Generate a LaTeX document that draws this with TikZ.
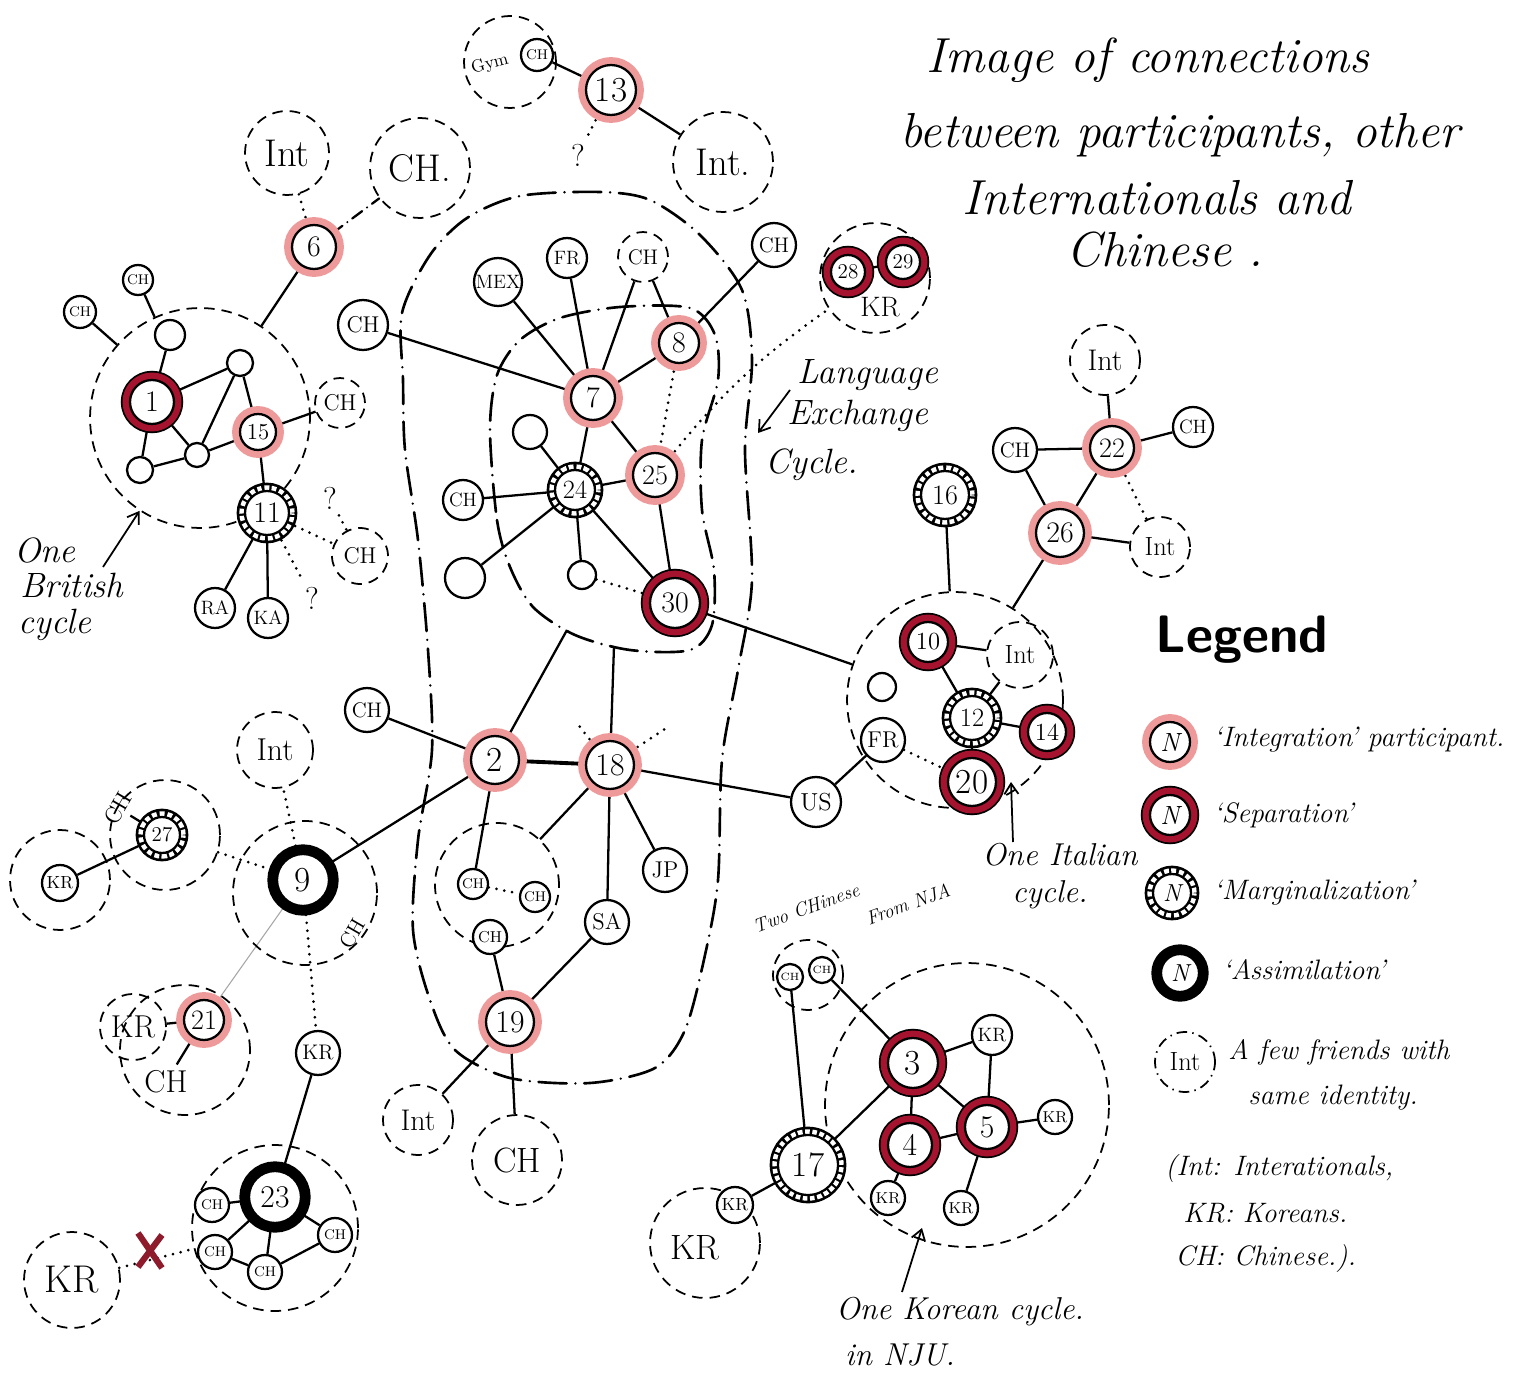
\documentclass[tikz,border=0pt]{standalone}
\usepackage{fontspec}
\usetikzlibrary{arrows.meta,calc}
\definecolor{halo}{HTML}{EE9A9A}
\definecolor{sepred}{HTML}{A6132F}
\definecolor{xred}{HTML}{8E1B2C}
\pgfdeclarelayer{paper}
\pgfdeclarelayer{bg}
\pgfsetlayers{paper,bg,main}
\tikzset{
  fs/.style={font=\fontsize{#1}{#1}\selectfont},
  base/.style={circle, inner sep=0pt, minimum size=#1*0.04cm, fill=white, draw=black, line width=1.3pt, fs=17},
  plain/.style={base=#1},
  integ/.style={base=#1, preaction={draw=halo, line width=9pt}},
  sepn/.style={base=#1, preaction={draw=black, line width=10.5pt}, preaction={draw=sepred, line width=8.5pt}},
  marg/.style={base=#1, preaction={draw=black, line width=9.5pt}, preaction={draw=white, line width=6.5pt, dash pattern=on 2.4pt off 1.3pt}},
  assim/.style={base=#1, preaction={draw=black, line width=11pt}},
  grp/.style={circle, inner sep=0pt, minimum size=#1*0.04cm, draw=black, line width=1pt, dash pattern=on 6pt off 4pt, fs=20},
  grpdd/.style={grp=#1, dash pattern=on 6pt off 3pt on 0.8pt off 3pt},
  link/.style={line width=1.3pt},
  dots/.style={line width=1.7pt, dash pattern=on 0pt off 4.5pt, line cap=round},
  dashdot/.style={line width=1.3pt, dash pattern=on 7pt off 3.5pt on 0pt off 3.5pt, line cap=round},
  cyc/.style={line width=1.5pt, dash pattern=on 16pt off 5pt on 0pt off 5pt, line cap=round},
  note/.style={font=\itshape\fontsize{#1}{#1}\selectfont, inner sep=0pt},
  arr/.style={line width=1pt, -{Straight Barb[length=6pt,width=8pt]}},
}
\begin{document}
\begin{tikzpicture}[x=0.02cm, y=-0.02cm]
\begin{pgfonlayer}{paper}
  \fill[white] (0,0) rectangle (1519,1375);
\end{pgfonlayer}
\useasboundingbox (0,0) rectangle (1519,1375);

% ---------- title ----------
\node[note=28] (t1) at (1148,60) {Image of connections};
\node[note=28] (t2) at (1180,135) {between participants, other};
\node[note=28] (t3) at (1157,198) {Internationals and};
\node[note=28] (t4) at (1165,250) {Chinese .};

% ---------- cycles drawn as free outlines ----------
\draw[cyc] plot[smooth cycle] coordinates {(403,380) (402,313) (430,255) (467,218) (520,196) (600,192) (650,200) (700,235) (742,290) (752,360) (745,450) (752,580) (738,670) (722,760) (718,880) (705,955) (685,1030) (655,1068) (590,1083) (510,1078) (455,1050) (430,1000) (413,930) (418,840) (432,750) (428,650) (418,540) (405,450)};
\draw[cyc] plot[smooth cycle] coordinates {(490,430) (497,520) (510,567) (533,607) (575,635) (630,650) (690,650) (712,625) (714,570) (702,510) (702,440) (718,380) (715,335) (690,308) (620,307) (560,318) (520,340) (497,375)};
\coordinate (inA) at (567,630);
\coordinate (inB) at (614,646);

% ---------- groups ----------
\node[grp=110] (brit) at (200,418) {};
\node[grp=108] (ital) at (955,700) {};
\node[grp=142] (korg) at (967,1105) {};
\node[grp=55] (krg) at (875,278) {};
\node[grp=46] (gymg) at (510,62) {};
\node[grp=62] (chg) at (497,885) {};
\node[grp=72] (g9) at (305,893) {};
\node[grp=55] (g27) at (165,835) {};
\node[grp=50] (gkr) at (60,880) {};
\node[grp=65] (g21) at (185,1050) {};
\node[grp=83] (g23) at (275,1228) {};
\node[grp=35] (twog) at (808,975) {};
\node[grp=55] (gkr7) at (705,1243) {};

% ---------- British cycle ----------
\node[sepn=22] (n1) at (152,402) {1};
\node[integ=18, fs=13] (n15) at (258,432) {15};
\node[marg=22] (n11) at (267,513) {11};
\node[plain=15] (e1) at (170,335) {};
\node[plain=13] (e2) at (240,363) {};
\node[plain=12] (e3) at (197,455) {};
\node[plain=13] (e4) at (140,470) {};
\node[plain=16, fs=8] (ch1) at (80,312) {CH};
\node[plain=15, fs=8] (ch2) at (138,280) {CH};
\node[grp=25, fs=13] (ch3) at (340,403) {CH};
\node[plain=20, fs=11] (ra) at (215,608) {RA};
\node[plain=20, fs=11] (ka) at (268,618) {KA};
\node[grp=28, fs=13] (ch4) at (360,556) {CH};
\node[fs=18] (q2) at (330,498) {?};
\node[fs=18] (q3) at (312,598) {?};
\node[integ=22] (n6) at (314,247) {6};
\node[grp=42, fs=22] (int1) at (287,153) {Int};
\node[grp=50, fs=22] (ch5) at (420,168) {CH.};

% ---------- top centre ----------
\node[fs=10, rotate=15] (gym) at (490,64) {Gym};
\node[plain=16, fs=8] (ch6) at (537,55) {CH};
\node[integ=25, fs=20] (n13) at (611,90) {13};
\node[fs=18] (q1) at (578,155) {?};
\node[grp=50, fs=22] (int2) at (723,162) {Int.};
\node[plain=24, fs=11] (mex) at (498,282) {MEX};
\node[plain=20, fs=11] (fr1) at (567,258) {FR};
\node[grp=25, fs=12] (ch7) at (643,257) {CH};
\node[plain=22, fs=12] (ch8) at (774,245) {CH};
\node[plain=25, fs=13] (ch9) at (363,325) {CH};
\node[integ=22] (n7) at (593,398) {7};
\node[integ=20] (n8) at (679,343) {8};
\node[integ=22, fs=16] (n25) at (655,475) {25};
\node[marg=20, fs=15] (n24) at (575,490) {24};
\node[sepn=25, fs=17] (n30) at (675,603) {30};
\node[plain=17] (e5) at (530,432) {};
\node[plain=20, fs=11] (ch10) at (463,500) {CH};
\node[plain=20] (e6) at (465,578) {};
\node[plain=14] (e7) at (582,575) {};
\node[sepn=17, fs=12] (n28) at (848,272) {28};
\node[sepn=17, fs=12] (n29) at (903,262) {29};
\node[fs=16] (krlbl) at (880,307) {KR};

% ---------- centre ----------
\node[plain=22, fs=12] (ch11) at (367,710) {CH};
\node[integ=24, fs=20] (n2) at (495,760) {2};
\node[integ=24, fs=18] (n18) at (610,765) {18};
\node[plain=15, fs=8] (ch12) at (473,884) {CH};
\node[plain=15, fs=8] (ch13) at (535,897) {CH};
\node[plain=17, fs=9] (ch14) at (490,937) {CH};
\node[plain=22, fs=13] (jp) at (665,870) {JP};
\node[plain=22, fs=13] (sa) at (607,922) {SA};
\node[integ=24, fs=18] (n19) at (510,1022) {19};
\node[grp=35, fs=17] (int3) at (418,1120) {Int};
\node[grp=45, fs=20] (ch15) at (517,1160) {CH};
\node[plain=25, fs=14] (us) at (816,802) {US};
\node[plain=22, fs=13] (fr2) at (883,740) {FR};
\coordinate (s18a) at (576,722);
\coordinate (s18b) at (668,727);

% ---------- left ----------
\node[grp=38, fs=18] (int4) at (275,750) {Int};
\node[assim=26, fs=20] (n9) at (303,880) {9};
\node[fs=12, rotate=60] (ch9l) at (352,934) {CH};
\node[marg=18, fs=12] (n27) at (162,835) {27};
\node[fs=13, rotate=60] (ch27) at (118,808) {CH};
\node[plain=18, fs=10] (kr1) at (60,883) {KR};
\node[grp=33, fs=18] (kr21) at (133,1027) {KR};
\node[integ=20, fs=16] (n21) at (204,1020) {21};
\node[fs=18] (ch21) at (166,1082) {CH};
\node[plain=22, fs=12] (kr2) at (318,1053) {KR};
\node[assim=26, fs=18] (n23) at (275,1197) {23};
\node[plain=17, fs=8] (c23a) at (212,1205) {CH};
\node[plain=17, fs=8] (c23b) at (215,1252) {CH};
\node[plain=17, fs=8] (c23c) at (265,1272) {CH};
\node[plain=17, fs=8] (c23d) at (335,1235) {CH};
\node[grp=48, fs=22] (krx) at (72,1280) {KR};
\coordinate (xm) at (150,1250);

% ---------- right ----------
\node[sepn=20, fs=14] (n10) at (928,642) {10};
\node[grp=33, fs=15] (int5) at (1020,655) {Int};
\node[plain=14] (e8) at (882,687) {};
\node[marg=22, fs=15] (n12) at (972,718) {12};
\node[sepn=19, fs=14] (n14) at (1047,732) {14};
\node[sepn=24, fs=20] (n20) at (972,782) {20};
\node[marg=24, fs=16] (n16) at (945,495) {16};
\node[integ=22, fs=16] (n22) at (1112,448) {22};
\node[integ=24, fs=17] (n26) at (1060,533) {26};
\node[plain=22, fs=12] (ch16) at (1015,450) {CH};
\node[plain=20, fs=11] (ch17) at (1193,427) {CH};
\node[grp=35, fs=17] (int6) at (1105,360) {Int};
\node[grp=30, fs=15] (int7) at (1160,547) {Int};

% ---------- Korean cycle ----------
\node[plain=13, fs=6] (ch18) at (790,977) {CH};
\node[plain=13, fs=6] (ch19) at (822,970) {CH};
\node[sepn=25, fs=20] (n3) at (913,1063) {3};
\node[sepn=22, fs=18] (n4) at (910,1145) {4};
\node[sepn=22, fs=18] (n5) at (987,1127) {5};
\node[marg=30, fs=20] (n17) at (808,1165) {17};
\node[plain=20, fs=11] (kr3) at (992,1035) {KR};
\node[plain=17, fs=9] (kr4) at (1055,1117) {KR};
\node[plain=17, fs=9] (kr5) at (961,1208) {KR};
\node[plain=17, fs=9] (kr6) at (888,1198) {KR};
\node[fs=20] (kr7l) at (695,1248) {KR};
\node[plain=18, fs=10] (kr7) at (735,1205) {KR};

% ---------- notes ----------
\node[note=20] (nb1) at (45,550) {One};
\node[note=20] (nb2) at (72,585) {British};
\node[note=20] (nb3) at (55,625) {cycle};
\node[note=20] (nl1) at (868,375) {Language};
\node[note=20] (nl2) at (858,416) {Exchange};
\node[note=20] (nl3) at (812,465) {Cycle.};
\node[note=18] (ni1) at (1060,855) {One Italian};
\node[note=18] (ni2) at (1050,895) {cycle.};
\node[note=11, rotate=20] (nt1) at (806,908) {Two CHinese};
\node[note=11, rotate=20] (nt2) at (908,904) {From NJA};
\node[note=18] (nk1) at (960,1312) {One Korean cycle.};
\node[note=18] (nk2) at (900,1355) {in NJU.};

% ---------- legend ----------
\node[font=\sffamily\bfseries\fontsize{30}{30}\selectfont] (leg) at (1242,640) {Legend};
\node[integ=20, font=\itshape\fontsize{15}{15}\selectfont] (L1) at (1170,742) {N};
\node[sepn=20, font=\itshape\fontsize{15}{15}\selectfont] (L2) at (1170,815) {N};
\node[marg=19, font=\itshape\fontsize{14}{14}\selectfont] (L3) at (1172,893) {N};
\node[assim=19, font=\itshape\fontsize{14}{14}\selectfont] (L4) at (1180,973) {N};
\node[grpdd=30, fs=15] (L5) at (1185,1062) {Int};
\node[note=16, anchor=west] (lt1) at (1213,740) {`Integration' participant.};
\node[note=16, anchor=west] (lt2) at (1213,815) {`Separation'};
\node[note=16, anchor=west] (lt3) at (1213,893) {`Marginalization'};
\node[note=16, anchor=west] (lt4) at (1222,970) {`Assimilation'};
\node[note=16, anchor=west] (lt5) at (1228,1052) {A few friends with};
\node[note=16, anchor=west] (lt6) at (1248,1098) {same identity.};
\node[note=16, anchor=west] (lt7) at (1165,1168) {(Int: Interationals,};
\node[note=16, anchor=west] (lt8) at (1183,1213) {KR: Koreans.};
\node[note=16, anchor=west] (lt9) at (1175,1258) {CH: Chinese.).};

% ---------- connectors ----------
\begin{pgfonlayer}{bg}
  % British cycle
  \draw[link] (ch1) -- (brit);
  \draw[link] (ch2) -- (brit);
  \draw[link] (n1) -- (e1);
  \draw[link] (n1) -- (e2);
  \draw[link] (n1) -- (e4);
  \draw[link] (n1) -- (e3);
  \draw[link] (e2) -- (e3);
  \draw[link] (e2) -- (n15);
  \draw[link] (e4) -- (e3);
  \draw[link] (e3) -- (n15);
  \draw[link] (n15) -- (ch3);
  \draw[link] (n15) -- (n11);
  \draw[link] (n6) -- (brit);
  \draw[link] (n11) -- (ra);
  \draw[link] (n11) -- (ka);
  \draw[dots] (n6) -- (int1);
  \draw[dashdot] (n6) -- (ch5);
  \draw[dots] (n11) -- (ch4);
  \draw[dots] (q2) -- (ch4);
  \draw[dots] (n11) -- (q3);
  % top centre
  \draw[link] (ch6) -- (n13);
  \draw[link] (n13) -- (int2);
  \draw[dots] (n13) -- (q1);
  \draw[link] (n7) -- (mex);
  \draw[link] (n7) -- (fr1);
  \draw[link] (n7) -- (ch7);
  \draw[link] (n7) -- (n8);
  \draw[link] (n8) -- (ch7);
  \draw[link] (n8) -- (ch8);
  \draw[link] (ch9) -- (n7);
  \draw[link] (n7) -- (n24);
  \draw[link] (n7) -- (n25);
  \draw[link] (n24) -- (e5);
  \draw[link] (n24) -- (ch10);
  \draw[link] (n24) -- (e6);
  \draw[link] (n24) -- (e7);
  \draw[link] (n24) -- (n30);
  \draw[link] (n24) -- (n25);
  \draw[link] (n25) -- (n30);
  \draw[link] (n28) -- (n29);
  \draw[link] (n30) -- (ital);
  \draw[dots] (n8) -- (n25);
  \draw[dots] (e7) -- (n30);
  \draw[dots] (n25) to[bend left=8] (krg);
  % centre
  \draw[link] (ch11) -- (n2);
  \draw[line width=2.2pt] (n2) -- (n18);
  \draw[link] (n2) -- (inA);
  \draw[link] (n18) -- (inB);
  \draw[link] (n2) -- (n9);
  \draw[link] (n2) -- (ch12);
  \draw[link] (n18) -- (chg);
  \draw[link] (n18) -- (sa);
  \draw[link] (n18) -- (jp);
  \draw[link] (n18) -- (us);
  \draw[link] (us) -- (fr2);
  \draw[link] (sa) -- (n19);
  \draw[link] (ch14) -- (n19);
  \draw[link] (n19) -- (int3);
  \draw[link] (n19) -- (ch15);
  \draw[dots] (ch12) -- (ch13);
  \draw[dots] (fr2) -- (n20);
  \draw[dots] (n18) -- (s18a);
  \draw[dots] (n18) -- (s18b);
  % left
  \draw[link] (n27) -- (kr1);
  \draw[link] (n27) -- (ch27);
  \draw[gray!70, line width=0.6pt] (n9) -- (n21);
  \draw[link] (kr2) -- (n23);
  \draw[link] (n21) -- (kr21);
  \draw[link] (n21) -- (ch21);
  \draw[link] (n23) -- (c23a);
  \draw[link] (n23) -- (c23b);
  \draw[link] (n23) -- (c23c);
  \draw[link] (n23) -- (c23d);
  \draw[link] (c23b) -- (c23c);
  \draw[link] (c23c) -- (c23d);
  \draw[dots] (n9) -- (int4);
  \draw[dots] (g27) -- (n9);
  \draw[dots] (n9) -- (kr2);
  \draw[dots] (krx) -- (g23);
  % right
  \draw[link] (n16) -- (ital);
  \draw[link] (n26) -- (ital);
  \draw[link] (n22) -- (int6);
  \draw[link] (n22) -- (ch17);
  \draw[link] (n22) -- (ch16);
  \draw[link] (ch16) -- (n26);
  \draw[link] (n22) -- (n26);
  \draw[link] (n26) -- (int7);
  \draw[dots] (n22) -- (int7);
  \draw[link] (n10) -- (int5);
  \draw[link] (n10) -- (n12);
  \draw[link] (n12) -- (int5);
  \draw[link] (n12) -- (n14);
  \draw[link] (n12) -- (n20);
  % Korean cycle
  \draw[link] (ch18) -- (n17);
  \draw[link] (ch19) -- (n3);
  \draw[link] (n17) -- (n3);
  \draw[link] (n3) -- (kr3);
  \draw[link] (n3) -- (n4);
  \draw[link] (n3) -- (n5);
  \draw[link] (n4) -- (n5);
  \draw[link] (n4) -- (kr6);
  \draw[link] (n5) -- (kr4);
  \draw[link] (n5) -- (kr5);
  \draw[link] (kr3) -- (n5);
  \draw[link] (n17) -- (kr7);
\end{pgfonlayer}

% ---------- note arrows ----------
\coordinate (ba) at (103,567);
\coordinate (la) at (790,390);
\coordinate (lb) at (758,433);
\coordinate (ia) at (1013,842);
\coordinate (ib) at (1011,782);
\coordinate (ka) at (902,1292);
\coordinate (kb) at (922,1228);
\draw[arr] (ba) -- (brit);
\draw[arr] (la) -- (lb);
\draw[arr] (ia) -- (ib);
\draw[arr] (ka) -- (kb);

% ---------- the cross between KR and the 23 circle ----------
\draw[xred, line width=3.5pt] ($(xm)+(-12,-17)$) -- ($(xm)+(12,18)$);
\draw[xred, line width=3.5pt] ($(xm)+(12,-15)$) -- ($(xm)+(-12,17)$);
\end{tikzpicture}
\end{document}
